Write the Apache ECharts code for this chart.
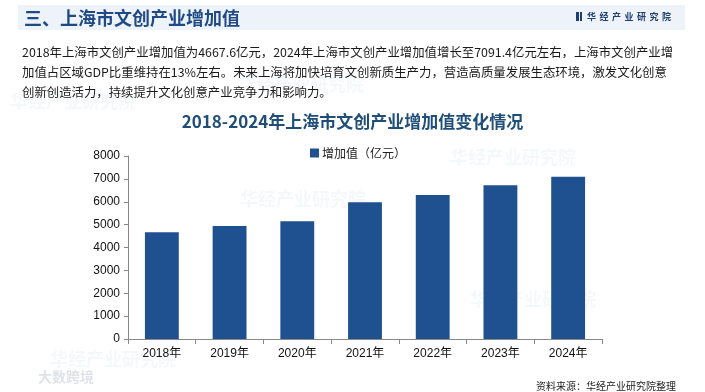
<!DOCTYPE html>
<html>
<head>
<meta charset="utf-8">
<script src="https://cdn.jsdelivr.net/npm/echarts@6/dist/echarts.min.js"></script>
<style>
  html, body { margin: 0; padding: 0; background: #ffffff; }
  #wrap { position: relative; width: 705px; height: 392px; overflow: hidden; background: #fff; }
  #chart { position: absolute; left: 0; top: 0; width: 705px; height: 392px; }
  .band { position: absolute; left: 18px; top: 5px; width: 667px; height: 25px; background: #eef3fa; }
  .htitle { position: absolute; left: 24px; top: 4px; font-family: "Noto Sans CJK SC", sans-serif; font-weight: bold; font-size: 18px; line-height: 27px; color: #1f4a86; }
  .logo { position: absolute; left: 576px; top: 11px; font-family: "Noto Sans CJK SC", sans-serif; font-weight: bold; font-size: 9px; line-height: 12px; color: #1f3f70; letter-spacing: 3.5px; }
  .logo i { display: inline-block; width: 2.5px; height: 9px; background: #1f3f70; margin-right: 1px; vertical-align: -1px; }
  .para { position: absolute; left: 22px; top: 42px; width: 680px; font-family: "Noto Sans CJK SC", sans-serif; font-size: 12.4px; line-height: 20px; color: #1a1a1a; white-space: nowrap; }
</style>
</head>
<body>
<div id="wrap">
  <div class="band"></div>
  <div id="chart"></div>
  <div class="htitle">三、上海市文创产业增加值</div>
  <div class="logo"><i></i><i style="margin-right:5px"></i>华经产业研究院</div>
  <div class="para" id="para"></div>
</div>
<script>
const headerTitle = "三、上海市文创产业增加值";
const paragraphLines = [
  "2018年上海市文创产业增加值为4667.6亿元，2024年上海市文创产业增加值增长至7091.4亿元左右，上海市文创产业增",
  "加值占区域GDP比重维持在13%左右。未来上海将加快培育文创新质生产力，营造高质量发展生态环境，激发文化创意",
  "创新创造活力，持续提升文化创意产业竞争力和影响力。"
];
const chartTitle = "2018-2024年上海市文创产业增加值变化情况";
const seriesName = "增加值（亿元）";
const categories = ["2018年", "2019年", "2020年", "2021年", "2022年", "2023年", "2024年"];
const values = [4667.6, 4940, 5150, 5980, 6290, 6720, 7091.4];
const yTicks = [0, 1000, 2000, 3000, 4000, 5000, 6000, 7000, 8000];
const sourceText = "资料来源：华经产业研究院整理";

document.getElementById('para').innerHTML = paragraphLines.join('<br>');

const chart = echarts.init(document.getElementById('chart'), null, { renderer: 'canvas' });
const wm = 'rgba(120,150,190,0.07)';
chart.setOption({
  animation: false,
  title: [
    { text: chartTitle, left: 'center', top: 108,
      textStyle: { fontFamily: 'Noto Sans CJK SC', fontSize: 17, fontWeight: 'bold', color: '#1f4e79' } },
    { text: sourceText, right: 24, top: 376,
      textStyle: { fontFamily: 'Noto Sans CJK SC', fontSize: 10, fontWeight: 'normal', color: '#222' } }
  ],
  legend: {
    data: [seriesName], left: 305, top: 142,
    itemWidth: 9, itemHeight: 9, itemGap: 10,
    icon: 'rect',
    textStyle: { fontFamily: 'Noto Sans CJK SC', fontSize: 12, color: '#222', padding: [0, 0, 0, -2] }
  },
  grid: { left: 128, right: 103, top: 156, bottom: 53, containLabel: false },
  xAxis: {
    type: 'category', data: categories, boundaryGap: true,
    axisLine: { lineStyle: { color: '#888', width: 1 } },
    axisTick: { show: true, alignWithLabel: false, length: 5, lineStyle: { color: '#888' } },
    axisLabel: { margin: 9, fontFamily: 'Liberation Sans, Noto Sans CJK SC', fontSize: 12, color: '#111' }
  },
  yAxis: {
    type: 'value', min: yTicks[0], max: yTicks[yTicks.length - 1], interval: 1000,
    splitLine: { show: false },
    axisLine: { show: true, lineStyle: { color: '#888', width: 1 } },
    axisTick: { show: true, length: 4, lineStyle: { color: '#888' } },
    axisLabel: { margin: 8, fontFamily: 'Liberation Sans, Arial', fontSize: 12, color: '#111',
      formatter: function (v) { return String(v); } }
  },
  series: [{
    name: seriesName, type: 'bar', data: values, barWidth: '50%',
    itemStyle: { color: '#1f5190' }
  }],
  graphic: [
    { type: 'text', left: 38, top: 370, style: { text: '大数跨境', font: 'bold 14px "Noto Sans CJK SC"', fill: 'rgba(150,160,175,0.3)' } },
    { type: 'text', left: 238, top: 75, style: { text: '华经产业研究院', font: 'bold 18px "Noto Sans CJK SC"', fill: wm } },
    { type: 'text', left: 240, top: 190, style: { text: '华经产业研究院', font: 'bold 18px "Noto Sans CJK SC"', fill: wm } },
    { type: 'text', left: 450, top: 148, style: { text: '华经产业研究院', font: 'bold 18px "Noto Sans CJK SC"', fill: wm } },
    { type: 'text', left: 470, top: 290, style: { text: '华经产业研究院', font: 'bold 18px "Noto Sans CJK SC"', fill: wm } },
    { type: 'text', left: 10, top: 92, style: { text: '华经产业研究院', font: 'bold 18px "Noto Sans CJK SC"', fill: wm } },
    { type: 'text', left: 50, top: 350, style: { text: '华经产业研究院', font: 'bold 18px "Noto Sans CJK SC"', fill: wm } }
  ]
});
</script>
</body>
</html>
